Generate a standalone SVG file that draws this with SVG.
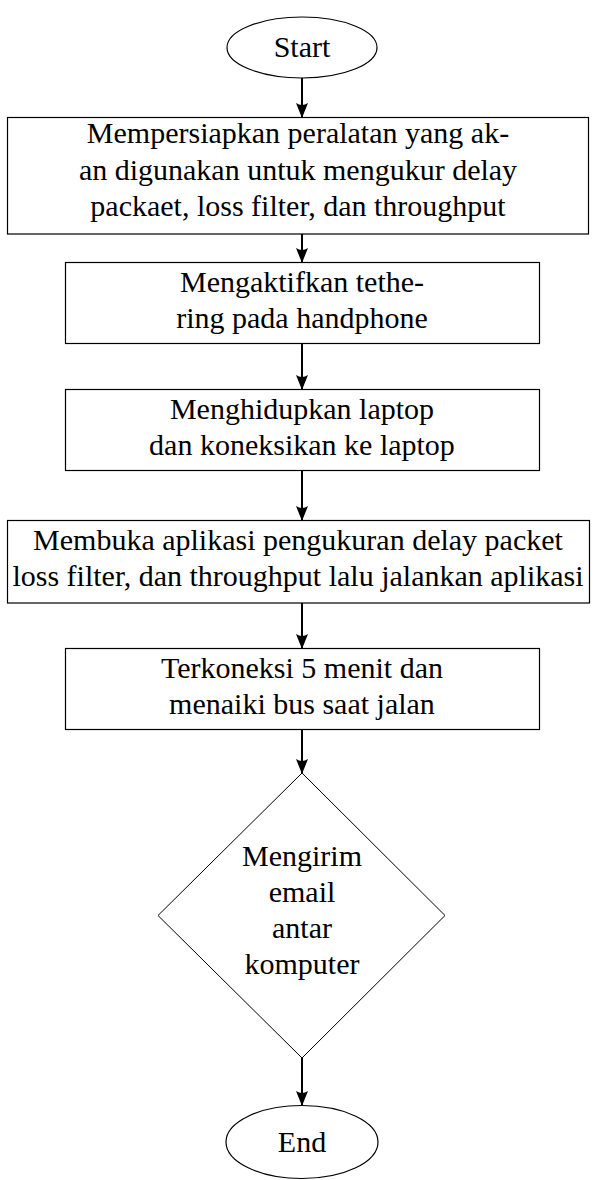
<svg xmlns="http://www.w3.org/2000/svg" width="594" height="1180" viewBox="0 0 594 1180">
<defs>
<marker id="ah" markerWidth="15" markerHeight="12" viewBox="0 0 15 12" refX="14" refY="6" orient="auto" markerUnits="userSpaceOnUse">
<path d="M0,0 Q4,6 0,12 L15,6 Z" fill="#000"/>
</marker>
</defs>
<rect width="594" height="1180" fill="#fff"/>
<g id="connectors" stroke="#000" stroke-width="2" fill="none">
<line x1="302" y1="78" x2="302" y2="117" marker-end="url(#ah)"/>
<line x1="302" y1="234" x2="302" y2="262" marker-end="url(#ah)"/>
<line x1="302" y1="343" x2="302" y2="389" marker-end="url(#ah)"/>
<line x1="302" y1="471" x2="302" y2="520" marker-end="url(#ah)"/>
<line x1="302" y1="603" x2="302" y2="648" marker-end="url(#ah)"/>
<line x1="302" y1="729" x2="302" y2="773" marker-end="url(#ah)"/>
<line x1="302" y1="1058" x2="302" y2="1105" marker-end="url(#ah)"/>
</g>
<g id="start">
<ellipse cx="302" cy="47.5" rx="75" ry="30.5" fill="#fff" stroke="#000" stroke-width="1.2"/>
<text font-family="Liberation Serif" font-size="30" text-anchor="middle" x="302" y="57">Start</text>
</g>
<g id="step1">
<rect x="7.5" y="117.5" width="581" height="116.5" fill="#fff" stroke="#000" stroke-width="1.2"/>
<text font-family="Liberation Serif" font-size="30" text-anchor="middle" x="298" y="143">Mempersiapkan peralatan yang ak-</text>
<text font-family="Liberation Serif" font-size="30" text-anchor="middle" x="298" y="180">an digunakan untuk mengukur delay</text>
<text font-family="Liberation Serif" font-size="30" text-anchor="middle" x="298" y="216">packaet, loss filter, dan throughput</text>
</g>
<g id="step2">
<rect x="65.5" y="262.5" width="474" height="81" fill="#fff" stroke="#000" stroke-width="1.2"/>
<text font-family="Liberation Serif" font-size="30" text-anchor="middle" x="302" y="292">Mengaktifkan tethe-</text>
<text font-family="Liberation Serif" font-size="30" text-anchor="middle" x="302" y="328">ring pada handphone</text>
</g>
<g id="step3">
<rect x="65.5" y="389.5" width="474" height="81" fill="#fff" stroke="#000" stroke-width="1.2"/>
<text font-family="Liberation Serif" font-size="30" text-anchor="middle" x="302" y="419">Menghidupkan laptop</text>
<text font-family="Liberation Serif" font-size="30" text-anchor="middle" x="302" y="455">dan koneksikan ke laptop</text>
</g>
<g id="step4">
<rect x="7.5" y="520.5" width="582" height="82.5" fill="#fff" stroke="#000" stroke-width="1.2"/>
<text font-family="Liberation Serif" font-size="30" text-anchor="middle" x="298" y="550">Membuka aplikasi pengukuran delay packet</text>
<text font-family="Liberation Serif" font-size="30" text-anchor="middle" x="298" y="586">loss filter, dan throughput lalu jalankan aplikasi</text>
</g>
<g id="step5">
<rect x="65.5" y="648.5" width="474" height="81" fill="#fff" stroke="#000" stroke-width="1.2"/>
<text font-family="Liberation Serif" font-size="30" text-anchor="middle" x="302" y="678">Terkoneksi 5 menit dan</text>
<text font-family="Liberation Serif" font-size="30" text-anchor="middle" x="302" y="714">menaiki bus saat jalan</text>
</g>
<g id="decision">
<polygon points="302,773 445,915.5 302,1058 158,915.5" fill="#fff" stroke="#000" stroke-width="1"/>
<text font-family="Liberation Serif" font-size="30" text-anchor="middle" x="302" y="866">Mengirim</text>
<text font-family="Liberation Serif" font-size="30" text-anchor="middle" x="302" y="902">email</text>
<text font-family="Liberation Serif" font-size="30" text-anchor="middle" x="302" y="938">antar</text>
<text font-family="Liberation Serif" font-size="30" text-anchor="middle" x="302" y="974">komputer</text>
</g>
<g id="end">
<ellipse cx="302" cy="1142" rx="76" ry="36.5" fill="#fff" stroke="#000" stroke-width="1.2"/>
<text font-family="Liberation Serif" font-size="30" text-anchor="middle" x="302" y="1152">End</text>
</g>
</svg>
